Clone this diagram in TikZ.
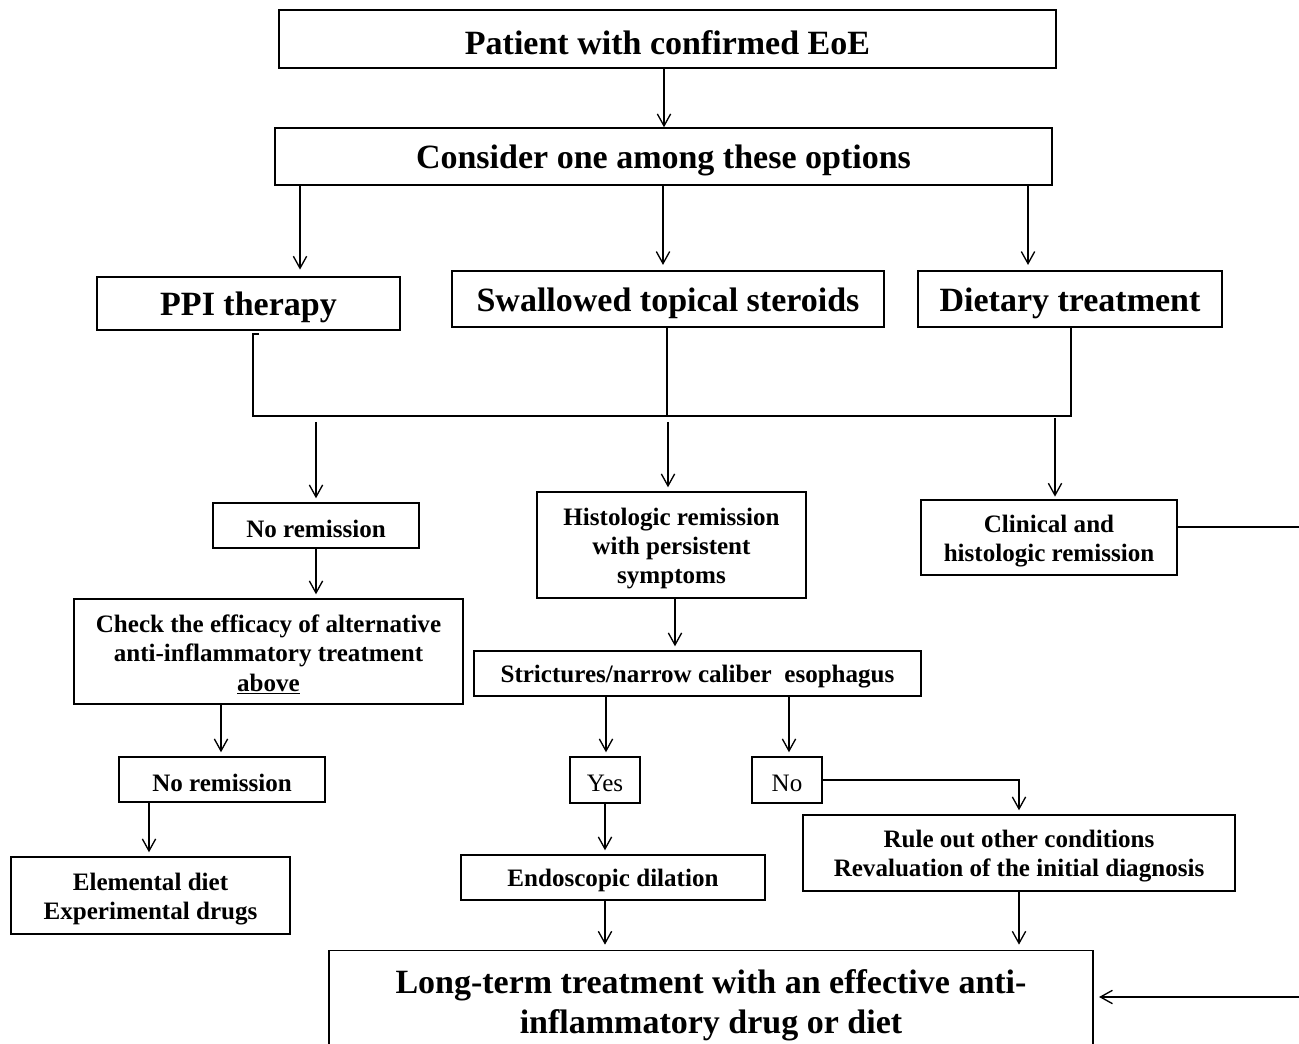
\documentclass[tikz,border=0pt]{standalone}
\usepackage{fontspec}
\setmainfont{Liberation Serif}
\usetikzlibrary{arrows.meta,calc}
\newcommand{\tstrut}{\rule{0pt}{0.95em}}
\tikzset{
  box/.style={draw, line width=1.1pt, inner sep=0pt, align=center, fill=white},
  big/.style={font=\fontsize{25.5}{30}\selectfont\bfseries},
  med/.style={font=\fontsize{18.8}{21.8}\selectfont\bfseries},
  medn/.style={font=\fontsize{18.8}{21.8}\selectfont},
  lng/.style={font=\fontsize{25.5}{30}\selectfont\bfseries},
  conn/.style={line width=1.1pt},
  arr/.style={line width=1.1pt, -{Straight Barb[length=9pt,width=10pt,line width=1pt]}},
}
\newcommand{\bx}[7]{\node[box,#7,minimum width={(#4-#2)*0.75pt},minimum height={(#5-#3)*0.75pt}] (#1) at ({(#2+#4)/2},{(#3+#5)/2}) {\tstrut#6};}
\begin{document}
\begin{tikzpicture}[x=0.75pt,y=-0.75pt]
\useasboundingbox (0,0) rectangle (1299,1044);
\bx{pat}{279}{10}{1056}{68}{Patient with confirmed EoE}{big}
\bx{cons}{275}{128}{1052}{185}{Consider one among these options}{big}
\bx{ppi}{97}{277}{400}{330}{PPI therapy}{big}
\bx{sw}{452}{271}{884}{327}{Swallowed topical steroids}{big}
\bx{diet}{918}{271}{1222}{327}{Dietary treatment}{big}
\bx{nr1}{213}{503}{419}{548}{No remission}{med}
\bx{chk}{74}{599}{463}{704}{Check the efficacy of alternative\\anti-inflammatory treatment\\\underline{above}}{med}
\bx{nr2}{119}{757}{325}{802}{No remission}{med}
\bx{elem}{11}{857}{290}{934}{Elemental diet\\Experimental drugs}{med}
\bx{hist}{537}{492}{806}{598}{Histologic remission\\with persistent\\symptoms}{med}
\bx{clin}{921}{500}{1177}{575}{Clinical and\\histologic remission}{med}
\bx{str}{474}{651}{921}{696}{Strictures/narrow caliber\ \ esophagus}{med}
\bx{yes}{570}{757}{640}{803}{Yes}{medn}
\bx{no}{752}{757}{822}{803}{No}{medn}
\bx{rule}{803}{815}{1235}{891}{Rule out other conditions\\Revaluation of the initial diagnosis}{med}
\bx{endo}{461}{855}{765}{900}{Endoscopic dilation}{med}
\node[box,lng,minimum width={764*0.75pt},minimum height={100*0.75pt},anchor=north] (long) at (711,950) {\tstrut Long-term treatment with an effective anti-\\[0pt]inflammatory drug or diet};
% connectors
\draw[arr] (pat.south -| 664,0) -- (cons.north -| 664,0);
\draw[arr,shorten >=5pt] (cons.south -| 300,0) -- (ppi.north -| 300,0);
\draw[arr,shorten >=4pt] (cons.south -| 663,0) -- (sw.north -| 663,0);
\draw[arr,shorten >=4pt] (cons.south -| 1028,0) -- (diet.north -| 1028,0);
\coordinate (jl) at (253,416);
\coordinate (jr) at (1071,416);
\coordinate (tick) at (259,334);
\draw[conn] (tick) -- (tick -| jl) -- (jl) -- (jr) -- (diet.south -| jr);
\draw[conn] (sw.south -| 667,0) -- (jl -| 667,0);
\coordinate (s1) at (316,422);
\coordinate (s2) at (668,422);
\coordinate (s3) at (1055,418);
\draw[arr,shorten >=3pt] (s1) -- (nr1.north -| s1);
\draw[arr,shorten >=3pt] (s2) -- (hist.north -| s2);
\draw[arr,shorten >=2pt] (s3) -- (clin.north -| s3);
\draw[arr,shorten >=3pt] (nr1.south) -- (chk.north -| nr1.south);
\draw[arr,shorten >=3pt] (chk.south -| 221,0) -- (nr2.north -| 221,0);
\draw[arr,shorten >=3pt] (nr2.south -| 149,0) -- (elem.north -| 149,0);
\draw[arr,shorten >=3pt] (hist.south -| 675,0) -- (str.north -| 675,0);
\draw[arr,shorten >=3pt] (str.south -| 606,0) -- (yes.north -| 606,0);
\draw[arr,shorten >=3pt] (str.south -| 789,0) -- (no.north -| 789,0);
\draw[arr,shorten >=3pt] (no.east) -| (rule.north);
\draw[arr,shorten >=3pt] (yes.south -| 605,0) -- (endo.north -| 605,0);
\draw[arr,shorten >=4pt] (endo.south -| 605,0) -- (long.north -| 605,0);
\draw[arr,shorten >=4pt] (rule.south) -- (long.north -| rule.south);
\coordinate (rt) at (1302,527);
\coordinate (rb) at (1302,997);
\draw[arr,shorten >=4pt] (clin.east |- rt) -- (rt) -- (rb) -- (long.east |- rb);
\end{tikzpicture}
\end{document}
